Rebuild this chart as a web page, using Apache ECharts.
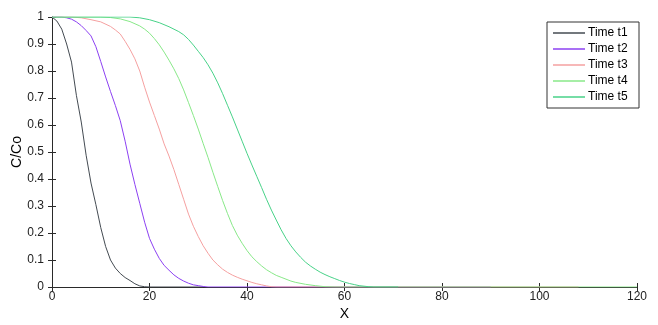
<!DOCTYPE html>
<html><head><meta charset="utf-8">
<script src="https://cdn.jsdelivr.net/npm/echarts@6/dist/echarts.min.js"></script>
<style>html,body{margin:0;padding:0;background:#fff}#c{width:658px;height:325px}</style>
</head><body><div id="c"></div><script>
const seriesNames = ['Time t1', 'Time t2', 'Time t3', 'Time t4', 'Time t5'];
const seriesColors = ['#444b52', '#8c40f2', '#f5a0a0', '#88e888', '#48d288'];
const xTicks = [0, 20, 40, 60, 80, 100, 120];

const t1 = [[0,1],[1,0.985],[2,0.955],[3,0.9],[4,0.833],[5,0.71],[6,0.611],[7,0.488],[8,0.385],[9,0.305],[10,0.22],[11,0.15],[12,0.1],[13,0.07],[14,0.05],[15,0.035],[16,0.024],[17,0.012],[18,0.004],[19,0.001],[20,0],[31,0]];
const t2 = [[0,1],[2,1],[3,0.997],[4,0.992],[5,0.982],[6,0.968],[7,0.95],[8,0.93],[9,0.89],[10,0.835],[11,0.778],[12,0.724],[13,0.672],[14,0.616],[15,0.54],[16,0.455],[17,0.38],[18,0.31],[19,0.24],[20,0.18],[21,0.14],[22,0.106],[23,0.08],[24,0.062],[25,0.045],[26,0.032],[27,0.022],[28,0.014],[29,0.008],[30,0.005],[31,0.002],[32,0],[90,0]];
const t3 = [[0,1],[4,1],[6,0.997],[8,0.99],[10,0.982],[12,0.965],[13,0.952],[14,0.937],[15,0.91],[16,0.88],[17,0.845],[18,0.8],[19,0.74],[20,0.685],[21,0.635],[22,0.585],[23,0.53],[24,0.485],[25,0.435],[26,0.38],[27,0.325],[28,0.27],[29,0.225],[30,0.187],[31,0.153],[32,0.125],[33,0.1],[34,0.082],[35,0.066],[36,0.054],[37,0.044],[38,0.036],[39,0.029],[40,0.023],[41,0.017],[42,0.012],[43,0.008],[44,0.004],[45,0.001],[46,0],[108,0]];
const t4 = [[0,1],[10,1],[12,0.998],[14,0.993],[16,0.983],[18,0.967],[19,0.955],[20,0.94],[21,0.92],[22,0.897],[23,0.87],[24,0.84],[25,0.808],[26,0.772],[27,0.73],[28,0.683],[29,0.635],[30,0.585],[31,0.532],[32,0.48],[33,0.425],[34,0.372],[35,0.32],[36,0.272],[37,0.228],[38,0.192],[39,0.162],[40,0.135],[41,0.112],[42,0.094],[43,0.078],[44,0.064],[45,0.053],[46,0.043],[47,0.036],[48,0.029],[49,0.022],[50,0.017],[52,0.01],[54,0.005],[56,0.001],[58,0],[120,0]];
const t5 = [[0,1],[16,1],[18,0.997],[20,0.99],[22,0.979],[24,0.964],[26,0.946],[27,0.934],[28,0.917],[29,0.896],[30,0.873],[31,0.85],[32,0.823],[33,0.792],[34,0.756],[35,0.716],[36,0.673],[37,0.63],[38,0.585],[39,0.54],[40,0.495],[41,0.452],[42,0.41],[43,0.368],[44,0.325],[45,0.285],[46,0.248],[47,0.212],[48,0.18],[49,0.153],[50,0.13],[51,0.11],[52,0.092],[53,0.078],[54,0.066],[55,0.055],[56,0.046],[57,0.038],[58,0.031],[59,0.024],[60,0.018],[61,0.013],[62,0.009],[63,0.005],[64,0.003],[65,0.001],[66,0],[71,0]];
const allData = [t1, t2, t3, t4, t5];

const font = '"Liberation Sans", Arial, sans-serif';
const axisColor = '#2a2a2a';
const tickStyle = {inside: true, length: 4, lineStyle: {color: axisColor, width: 1}};
const lineStyle = {lineStyle: {color: axisColor, width: 1}};

const chart = echarts.init(document.getElementById('c'), null, {renderer: 'canvas'});
chart.setOption({
  animation: false,
  backgroundColor: '#fff',
  grid: {left: 52, right: 21, top: 17, bottom: 38, containLabel: false, outerBoundsMode: 'none'},
  legend: {
    data: seriesNames,
    orient: 'vertical',
    left: 547, top: 22,
    padding: [4, 4, 4, 6],
    backgroundColor: '#fff',
    borderColor: '#333', borderWidth: 1, borderRadius: 0,
    icon: 'rect', itemWidth: 32, itemHeight: 1.5, itemGap: 2,
    textStyle: {fontFamily: font, fontSize: 12, color: '#000', lineHeight: 14, width: 47, overflow: 'none', padding: [0,0,0,-2]}
  },
  xAxis: [{
    type: 'value', min: xTicks[0], max: xTicks[xTicks.length - 1], interval: 20,
    name: 'X', nameLocation: 'middle', nameGap: 20, nameMoveOverlap: false,
    nameTextStyle: {fontFamily: font, fontSize: 14, color: '#000'},
    axisLine: lineStyle, axisTick: tickStyle,
    axisLabel: {fontFamily: font, fontSize: 12, color: '#222', margin: 4},
    splitLine: {show: false}
  }, {
    type: 'value', position: 'top', min: xTicks[0], max: xTicks[xTicks.length - 1], interval: 20,
    axisLine: lineStyle, axisTick: tickStyle, axisLabel: {show: false}, splitLine: {show: false}
  }],
  yAxis: [{
    type: 'value', min: 0, max: 1, interval: 0.1,
    name: 'C/Co', nameLocation: 'middle', nameGap: 28, nameRotate: 90, nameMoveOverlap: false,
    nameTextStyle: {fontFamily: font, fontSize: 14, color: '#000'},
    axisLine: lineStyle, axisTick: tickStyle,
    axisLabel: {fontFamily: font, fontSize: 12, color: '#222', margin: 8,
      formatter: v => String(Math.round(v * 10) / 10)},
    splitLine: {show: false}
  }, {
    type: 'value', position: 'right', min: 0, max: 1, interval: 0.1,
    axisLine: lineStyle, axisTick: tickStyle, axisLabel: {show: false}, splitLine: {show: false}
  }],
  series: seriesNames.map((n, i) => ({
    name: n, type: 'line', data: allData[i],
    xAxisIndex: 0, yAxisIndex: 0,
    showSymbol: false, symbol: 'none', smooth: false,
    color: seriesColors[i],
    lineStyle: {width: 1, color: seriesColors[i]},
    emphasis: {disabled: true}
  }))
});
</script></body></html>
